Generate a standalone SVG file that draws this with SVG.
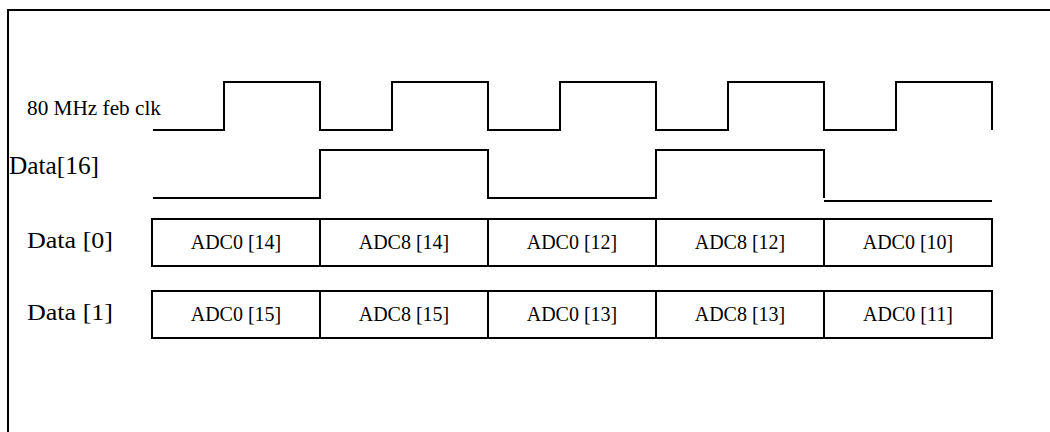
<svg xmlns="http://www.w3.org/2000/svg" width="1050" height="432" viewBox="0 0 1050 432">
  <style>
    .wave { fill: none; stroke: #000; stroke-width: 2; stroke-linejoin: miter; }
    .cell { fill: #fff; stroke: #000; stroke-width: 2; }
    .lbl { font-family: "Liberation Serif", "Times New Roman", serif; fill: #000; }
    .cellt { font-family: "Liberation Serif", "Times New Roman", serif; font-size: 20px; fill: #000; text-anchor: middle; }
  </style>
  <rect width="1050" height="432" fill="#fff"/>
  <g id="frame">
    <path d="M8,432 V10 H1050" fill="none" stroke="#000" stroke-width="2"/>
  </g>

  <g id="labels">
    <text class="lbl" x="27" y="115" font-size="20" textLength="134" lengthAdjust="spacingAndGlyphs">80 MHz feb clk</text>
    <text class="lbl" x="9" y="174" font-size="25" textLength="90" lengthAdjust="spacingAndGlyphs">Data[16]</text>
    <text class="lbl" x="27" y="248" font-size="23" textLength="86" lengthAdjust="spacingAndGlyphs">Data [0]</text>
    <text class="lbl" x="27" y="320" font-size="23" textLength="86" lengthAdjust="spacingAndGlyphs">Data [1]</text>
  </g>

  <g id="connectors">
    <path id="clk" class="wave" d="M153,130 H224 V82 H320 V130 H392 V82 H488 V130 H560 V82 H656 V130 H728 V82 H824 V130 H896 V82 H992 V130"/>
    <path id="data16" class="wave" d="M153,198 H320 V150 H488 V198 H656 V150 H824 V198"/>
    <path class="wave" d="M824,201 H992"/>
  </g>

  <g id="data0">
    <rect class="cell" x="152" y="219" width="168" height="47"/>
    <rect class="cell" x="320" y="219" width="168" height="47"/>
    <rect class="cell" x="488" y="219" width="168" height="47"/>
    <rect class="cell" x="656" y="219" width="168" height="47"/>
    <rect class="cell" x="824" y="219" width="168" height="47"/>
    <text class="cellt" x="236" y="249">ADC0 [14]</text>
    <text class="cellt" x="404" y="249">ADC8 [14]</text>
    <text class="cellt" x="572" y="249">ADC0 [12]</text>
    <text class="cellt" x="740" y="249">ADC8 [12]</text>
    <text class="cellt" x="908" y="249">ADC0 [10]</text>
  </g>

  <g id="data1">
    <rect class="cell" x="152" y="291" width="168" height="47"/>
    <rect class="cell" x="320" y="291" width="168" height="47"/>
    <rect class="cell" x="488" y="291" width="168" height="47"/>
    <rect class="cell" x="656" y="291" width="168" height="47"/>
    <rect class="cell" x="824" y="291" width="168" height="47"/>
    <text class="cellt" x="236" y="321">ADC0 [15]</text>
    <text class="cellt" x="404" y="321">ADC8 [15]</text>
    <text class="cellt" x="572" y="321">ADC0 [13]</text>
    <text class="cellt" x="740" y="321">ADC8 [13]</text>
    <text class="cellt" x="908" y="321">ADC0 [11]</text>
  </g>
</svg>
